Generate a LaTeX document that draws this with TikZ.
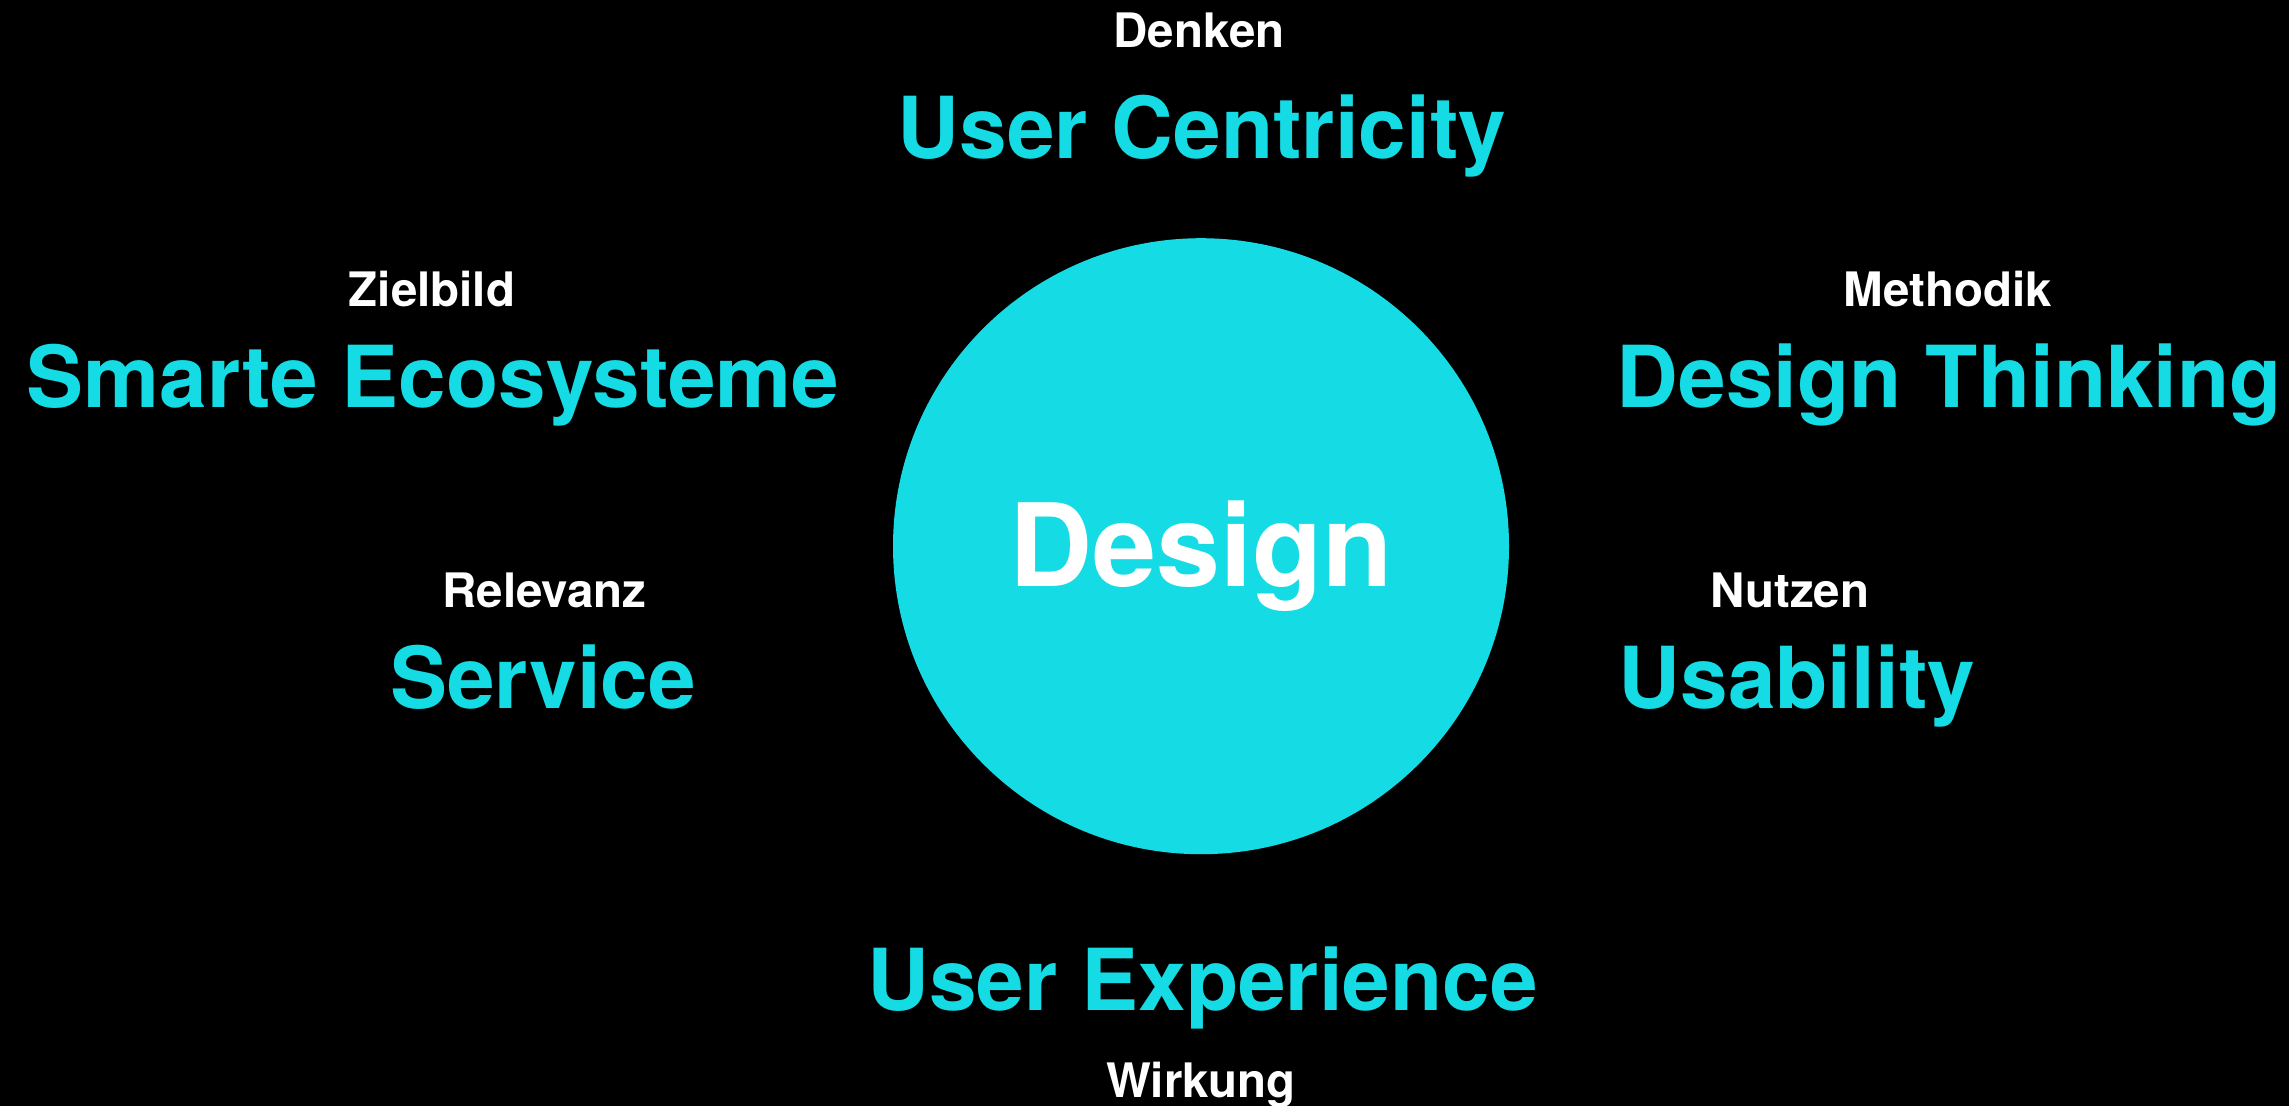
\documentclass[tikz,border=0pt]{standalone}
\usepackage{fontspec}
\setmainfont{TeX Gyre Heros}
\definecolor{dcyan}{RGB}{21,219,228}
\tikzset{
  every node/.style={inner sep=0pt, outer sep=0pt, anchor=base, font=\bfseries},
  biglbl/.style={text=dcyan, font=\bfseries\fontsize{85.5}{96}\selectfont},
  smalllbl/.style={text=white, font=\bfseries\fontsize{47.5}{54}\selectfont},
  hub/.style={circle, fill=dcyan, minimum size=616pt, inner sep=0pt, anchor=center},
  hubtext/.style={text=white, font=\bfseries\fontsize{115}{130}\selectfont}
}
\begin{document}
\begin{tikzpicture}[x=1pt, y=-1pt]
\fill[black] (0,0) rectangle (2289,1106);
\useasboundingbox (0,0) rectangle (2289,1106);
\node[hub] (hubc) at (1201,546.2) {};
\node[hubtext] (design) at (1201,586.7) {Design};
\node[smalllbl] (denken) at (1199,47.7) {Denken};
\node[biglbl] (uc) at (1202,158.3) {User Centricity};
\node[smalllbl] (ziel) at (432,306) {Zielbild};
\node[biglbl] (smart) at (433,407.7) {Smarte Ecosysteme};
\node[smalllbl] (meth) at (1948,306.7) {Methodik};
\node[biglbl] (dt) at (1949.5,407.7) {Design Thinking};
\node[smalllbl] (rel) at (544.5,607.3) {Relevanz};
\node[biglbl] (serv) at (543,708.3) {Service};
\node[smalllbl] (nutz) at (1790,607.3) {Nutzen};
\node[biglbl] (usab) at (1797,708.3) {Usability};
\node[biglbl] (ux) at (1202.7,1010.7) {User Experience};
\node[smalllbl] (wirk) at (1201,1097.7) {Wirkung};
\end{tikzpicture}
\end{document}
